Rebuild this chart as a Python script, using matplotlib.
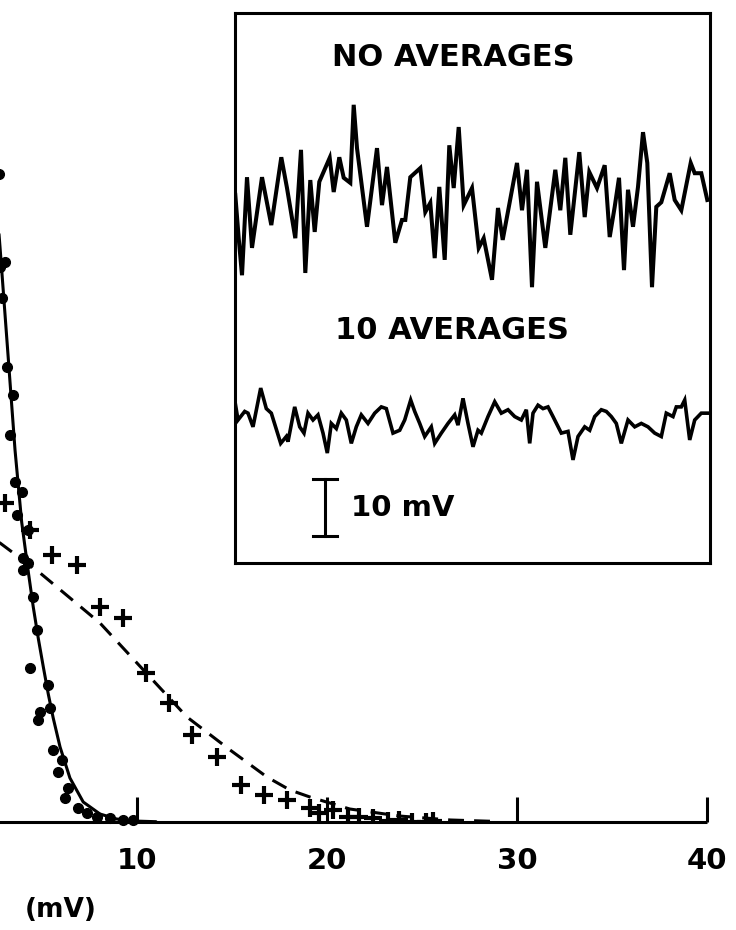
import matplotlib
matplotlib.use("Agg")
import matplotlib.pyplot as plt
import numpy as np

plt.rcParams['font.family'] = ['DejaVu Sans']
plt.rcParams['font.weight'] = 'bold'

# ---------------- data ----------------
# amplitude (mV) / relative frequency, averaged (10) signal: fitted curve + points
avg_curve_v = [0, 1, 2, 2.5, 2.79, 3.2, 3.58, 3.93, 4.28, 4.54, 4.81, 5.07, 5.33,
               5.59, 5.95, 6.47, 7.17, 8.05, 8.93, 9.79, 11]
avg_curve_h = [1030, 955, 762, 645, 575, 470, 372, 300, 250, 215, 183, 155, 128,
               104, 75, 44, 20, 8, 3, 1, 0.3]
avg_pts_v = [2.75, 2.8, 2.9, 3.05, 3.16, 3.3, 3.47, 3.58, 3.68, 3.95, 4.0, 4.0, 4.26,
             4.26, 4.37, 4.53, 4.74, 4.79, 4.9, 5.32, 5.42, 5.58, 5.84, 6.05, 6.2,
             6.37, 6.9, 7.37, 7.9, 8.6, 9.26, 9.8]
avg_pts_h = [648, 555, 524, 560, 455, 387, 427, 340, 307, 330, 264, 252, 292,
             259, 154, 225, 192, 102, 110, 137, 114, 72, 50, 62, 24,
             34, 14, 9, 5, 4, 2, 2]

# no-averaging signal: fitted curve + points
raw_curve_v = [0, 1, 2, 2.79, 4.9, 8.05, 10.68, 12.63, 14.9, 16.84, 18.05, 19.1,
               21.2, 23.8, 26.5, 29]
raw_curve_h = [293, 290, 285, 279, 249, 199, 145, 105, 72, 45, 32, 25,
               13, 6, 2, 0.5]
raw_pts_v = [3.05, 4.37, 5.53, 6.84, 8.05, 9.26, 10.5, 11.7, 12.9, 14.2, 15.5, 16.7,
             17.9, 19.1, 19.6, 20.3, 21.1, 21.7, 22.4, 23.2, 23.8, 24.5, 25.2, 25.6]
raw_pts_h = [319, 292, 267, 257, 215, 204, 149, 119, 87, 65, 37, 27,
             22, 14, 9, 12, 5, 5, 4, 1, 2, 0.5, 0.5, 1]

x_ticks = [10, 20, 30, 40]
x_tick_labels = ['10', '20', '30', '40']

# inset traces: time (arbitrary units) and voltage (mV)
trace_raw_t = [0.3, 3.7, 7, 12, 17, 27, 36.3, 46.3, 52, 60.3, 66, 70.3, 75.3, 79.7,
               84.3, 94.7, 98.7, 104.3, 108.7, 115.3, 118.7, 122, 132, 142, 147, 152,
               160.3, 167, 170.3, 175.3, 185.3, 190.3, 195.3, 199.7, 204.3, 209.7,
               214.3, 218.7, 223.7, 228.7, 237, 243.7, 248.7, 257, 263, 267.7, 282,
               287, 292, 297, 302, 310.3, 320.3, 325.3, 330.3, 335.3, 344.3, 349.7,
               354.3, 362, 369.7, 374.7, 379.7, 384, 389, 393, 398, 403, 408, 412.3,
               417, 421.3, 426.3, 434.7, 439.7, 446.3, 455.7, 459.7, 466.3, 472.3]
trace_raw_mv = [0.9, -6.7, -13.2, 4.0, -8.4, 4.0, -4.4, 7.5, 2.1, -6.7, 8.8, -12.8,
                3.5, -5.6, 3.2, 7.4, 1.4, 7.5, 3.9, 3.0, 16.7, 9.1, -4.7, 9.1, -0.9,
                5.8, -7.5, -3.5, -3.5, 4.0, 5.6, -2.1, -0.5, -10.2, 2.3, -10.5, 9.6,
                2.1, 12.8, -0.9, 2.1, -8.4, -6.7, -14.0, -1.4, -7.0, 6.5, -1.8, 5.3,
                -15.3, 3.2, -8.4, 5.3, -1.8, 7.4, -6.1, 8.4, -3.0, 4.9, 2.1, 6.1,
                -6.5, -1.2, 3.9, -12.3, 1.8, -4.7, 2.3, 11.9, 6.5, -15.3, -1.2, -0.4,
                4.7, 0.0, -1.8, 6.5, 4.7, 4.7, 0.0]

trace_avg_t = [0, 3, 9.7, 13, 18, 25.7, 31.3, 36.3, 45.7, 51.3, 53, 59.7, 64.7, 69,
               73, 78, 83, 88, 92.3, 96.3, 101.3, 106.3, 111.3, 116.3, 121.3, 126.3,
               133, 139.7, 146.3, 151.3, 158, 164.7, 169.7, 175.7, 179.7, 184.7,
               189.7, 196.3, 199.7, 206.3, 213, 219.7, 223, 228, 233, 238, 243,
               246.3, 253, 259.7, 266.3, 273, 279.7, 286.3, 291.3, 294.7, 298, 303,
               308, 313, 318, 326.3, 333, 338, 343, 349.7, 354.7, 359.7, 366.3,
               371.3, 376.3, 381.3, 386.3, 393, 399.7, 406.3, 413, 419.7, 426.3,
               431.3, 438, 441.3, 446.3, 449.7, 454.7, 459.7, 466.3, 472.3]
trace_avg_mv = [3.2, 0, 1.5, 1.2, -1.2, 5.6, 2.0, 1.2, -4.1, -2.9, -3.8, 2.3, -1.2,
                -2.3, 1.2, 0, 0.9, -2.3, -5.8, -0.6, -1.5, 1.2, 0, -4.1, -1.2, 0.9,
                -0.6, 1.2, 2.3, 2.0, -2.3, -1.8, 0, 3.5, 1.5, -0.6, -2.9, -1.2, -4.1,
                -2.3, -0.6, 0.9, -0.9, 3.8, -0.6, -4.7, -1.8, -2.3, 0.6, 3.2, 1.2,
                1.8, 0.6, 0, 1.8, -4.1, 1.2, 2.6, 2.0, 2.3, 0.6, -2.3, -2.0, -7.0,
                -2.9, -1.2, -1.8, 0.6, 1.8, 1.5, 0.6, -0.6, -4.1, 0, -1.2, -0.6,
                -1.2, -2.3, -2.9, 1.2, 0.6, 2.3, 2.3, 3.5, -3.5, 0, 1.2, 1.2]

scale_bar_mv = 10

# ---------------- figure ----------------
W, H = 736, 930
fig = plt.figure(figsize=(W / 100, H / 100), dpi=100)
fig.patch.set_facecolor('white')

# main axes (its left part lies outside the visible crop)
ax_left_px, ax_right_px, ax_bottom_px, ax_top_px = -53, 707, 822, -178
ax = fig.add_axes([ax_left_px / W, 1 - ax_bottom_px / H,
                   (ax_right_px - ax_left_px) / W, (ax_bottom_px - ax_top_px) / H])
ax.set_xlim(0, 40)
ax.set_ylim(0, 1000)
for s in ['top', 'right', 'left']:
    ax.spines[s].set_visible(False)
ax.spines['bottom'].set_linewidth(2.2)
ax.spines['bottom'].set_capstyle('butt')
ax.set_yticks([])
ax.set_xticks(x_ticks)
ax.set_xticklabels(x_tick_labels, fontsize=21, fontweight='bold')
ax.tick_params(axis='x', direction='in', length=18, width=2.2, pad=18)
ax.patch.set_alpha(0)

ax.plot(avg_curve_v, avg_curve_h, color='black', lw=2.2, solid_capstyle='round')
ax.plot(avg_pts_v, avg_pts_h, 'o', color='black', ms=7, clip_on=False)
ax.plot(raw_curve_v, raw_curve_h, color='black', lw=2.2, dashes=(5.2, 3.3))
ax.plot(raw_pts_v, raw_pts_h, '+', color='black', ms=12.5, mew=3)

fig.text(25 / W, 1 - 910 / H, '(mV)', fontsize=19, fontweight='bold',
         ha='left', va='center')

# inset
in_l, in_r, in_t, in_b = 235, 710, 13, 563
ins = fig.add_axes([in_l / W, 1 - in_b / H, (in_r - in_l) / W, (in_b - in_t) / H])
ins.set_facecolor('white')
px_per_mv = 5.7
ins.set_xlim(0, in_r - in_l)
ins.set_ylim(0, (in_b - in_t) / px_per_mv)
ins.set_xticks([])
ins.set_yticks([])
for s in ins.spines.values():
    s.set_linewidth(2.2)

base_raw = (in_b - 200) / px_per_mv
base_avg = (in_b - 420) / px_per_mv
ins.plot(trace_raw_t, np.array(trace_raw_mv) + base_raw, color='black', lw=2.9,
         solid_joinstyle='miter')
ins.plot(trace_avg_t, np.array(trace_avg_mv) + base_avg, color='black', lw=2.6,
         solid_joinstyle='miter')

ins.text(218, (in_b - 57) / px_per_mv, 'NO AVERAGES', fontsize=22,
         fontweight='bold', ha='center', va='center')
ins.text(217, (in_b - 330) / px_per_mv, '10 AVERAGES', fontsize=22,
         fontweight='bold', ha='center', va='center')

sb_x = 90
sb_y0 = (in_b - 536) / px_per_mv
ins.plot([sb_x, sb_x], [sb_y0, sb_y0 + scale_bar_mv], color='black', lw=2.2)
ins.plot([sb_x - 12, sb_x + 12], [sb_y0, sb_y0], color='black', lw=2.2)
ins.plot([sb_x - 12, sb_x + 12], [sb_y0 + scale_bar_mv] * 2, color='black', lw=2.2)
ins.text(116, sb_y0 + scale_bar_mv / 2, '10 mV', fontsize=21, fontweight='bold',
         ha='left', va='center')

fig.savefig('out.png', dpi=100, facecolor='white')
